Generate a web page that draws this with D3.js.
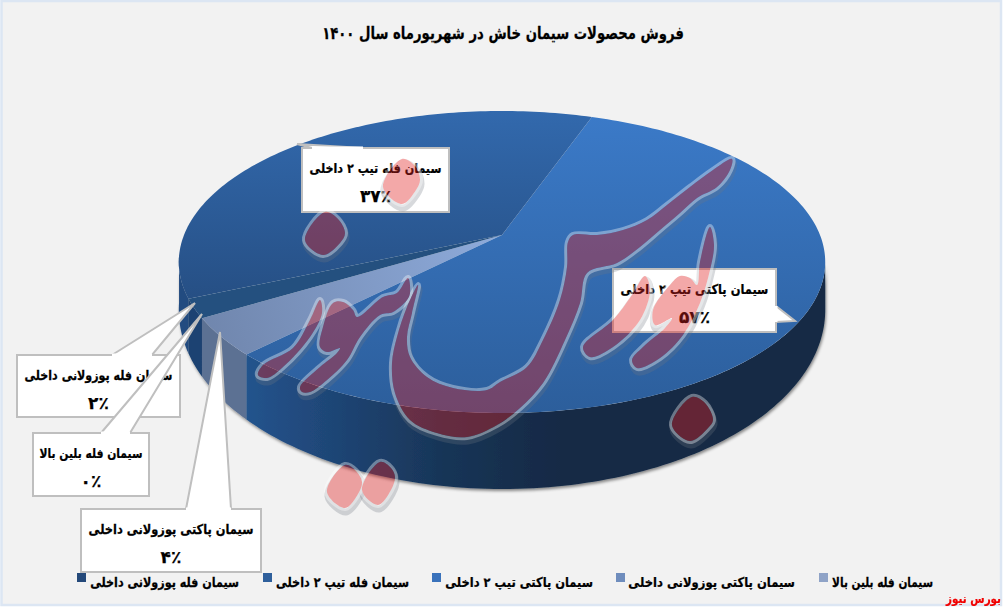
<!DOCTYPE html>
<html lang="fa">
<head>
<meta charset="utf-8">
<script src="https://cdn.jsdelivr.net/npm/d3@7"></script>
<style>
html,body{margin:0;padding:0;background:#fff;}
svg{display:block;font-family:"DejaVu Sans",sans-serif;}
text{font-weight:700;direction:rtl;fill:#000;stroke:#000;stroke-width:.25px;}
</style>
</head>
<body>
<div id="chart"></div>
<script>
// ---- data ----
const title = "فروش محصولات سیمان خاش در شهریورماه سال ۱۴۰۰";
const credit = "بورس نیوز";
const categories = [
  "سیمان فله بلین بالا",
  "سیمان پاکتی پوزولانی داخلی",
  "سیمان پاکتی تیپ ۲ داخلی",
  "سیمان فله تیپ ۲ داخلی",
  "سیمان فله پوزولانی داخلی"
];
const values = [0, 4, 57, 37, 2];
const sliceOrder = [2, 1, 0, 4, 3];      // clockwise order of categories in the pie

// ---- presentation ----
const W = 1005, H = 610;
const topColors  = ["#8da4cc", "url(#gLight)", "url(#gPack)", "url(#gBulk)", "#24507f"];
const sideColors = ["#7388ab", "#5c7193", "url(#gSide)", "#234c80", "#1c4272"];
const swatchColors = ["#8fa3c7", "#6f8dbd", "#3a72bb", "#2f609c", "#24497a"];
const legendRight = [933, 795, 593, 409, 239];
const legendWidth = [101, 167, 148, 133, 149];
const legendSwatch = [819, 616, 432, 263, 77];
// callout box: x, y, w, h; pointer base on an edge and tip; text width
const callouts = {
  3: {box:[302,148,147,64],  ptr:[[312,148],[297,144],[363,148]], tw:132},
  2: {box:[613,269,163,63],  ptr:[[776,306],[795,321],[776,322]], tw:148},
  4: {box:[17,355,163,62],   ptr:[[112,355],[195,303],[152,355]], tw:148},
  0: {box:[33,433,116,63],   ptr:[[101,433],[202,314],[130,433]], tw:103},
  1: {box:[81,509,180,63],   ptr:[[186,509],[220,332],[231,509]], tw:165}
};
const calloutOrder = [3, 2, 4, 0, 1];

const persian = n => String(n).replace(/\d/g, d => "۰۱۲۳۴۵۶۷۸۹"[d]);

// perspective projection of the unit disc onto the page
const cx = 502, K = -0.179, A = 318;
const topPt = (u, v) => {
  const q = 1 + K * v;
  return [cx + A * u / q, (104.1 * v + 235) / q];
};
const botPt = (u, v) => {
  const q = 1 + K * v;
  return [cx + A * u / q, (123.7 * v + 277.8) / q];
};
const uv = a => [Math.sin(a), -Math.cos(a)];
const startAngle = 19.3 * Math.PI / 180;

const pie = d3.pie()
  .value(i => values[i])
  .sort((a, b) => sliceOrder.indexOf(a) - sliceOrder.indexOf(b))
  .startAngle(startAngle).endAngle(startAngle + 2 * Math.PI);
const arcs = pie(d3.range(values.length));

const svg = d3.select("#chart").append("svg").attr("width", W).attr("height", H);
const defs = svg.append("defs");
function grad(id, x1, y1, x2, y2, stops) {
  const g = defs.append("linearGradient").attr("id", id).attr("gradientUnits", "userSpaceOnUse")
    .attr("x1", x1).attr("y1", y1).attr("x2", x2).attr("y2", y2);
  stops.forEach(s => g.append("stop").attr("offset", s[0]).attr("stop-color", s[1]));
}
grad("gPack", 0, 115, 0, 415, [[0, "#3b7ac8"], [1, "#2c5e9b"]]);
grad("gBulk", 0, 111, 0, 300, [[0, "#3269ad"], [1, "#264f84"]]);
grad("gLight", 502, 235, 200, 320, [[0, "#8eabdb"], [1, "#7086ad"]]);
grad("gSide", 239, 0, 825, 0, [[0, "#24558f"], [.15, "#1f4677"], [.35, "#183557"], [.55, "#132945"], [1, "#142a44"]]);
const shadow = defs.append("filter").attr("id", "pieShadow")
  .attr("x", "-5%").attr("y", "-5%").attr("width", "110%").attr("height", "110%");
shadow.append("feDropShadow").attr("dx", 1).attr("dy", 2).attr("stdDeviation", 1.6)
  .attr("flood-color", "#000").attr("flood-opacity", .45);

// places a text horizontally squeezed to a measured width
function fitText(parent, x, y, str, size, width, anchor) {
  const t = parent.append("text").attr("font-size", size).attr("text-anchor", anchor).text(str);
  const sx = width / t.node().getComputedTextLength();
  return t.attr("transform", `translate(${x},${y}) scale(${sx},1)`);
}

// frame
svg.append("rect").attr("x", 1.5).attr("y", 1).attr("width", 999.5).attr("height", 604)
  .attr("fill", "#f2f2f2").attr("stroke", "#dce6f3").attr("stroke-width", 2.5);

fitText(svg, 503, 39, title, 17, 362, "middle");

// pie sides then faces
const line = d3.line();
const samples = (a0, a1) => {
  const n = Math.max(2, Math.ceil((a1 - a0) / 0.02));
  return d3.range(n + 1).map(i => a0 + (a1 - a0) * i / n);
};
const sideMin = 100 * Math.PI / 180, sideMax = 262 * Math.PI / 180;
const sides = svg.append("g").attr("filter", "url(#pieShadow)");
arcs.forEach(d => {
  const a0 = Math.max(d.startAngle, sideMin), a1 = Math.min(d.endAngle, sideMax);
  if (a1 <= a0) return;
  const s = samples(a0, a1);
  const pts = s.map(a => topPt(...uv(a))).concat(s.slice().reverse().map(a => botPt(...uv(a))));
  sides.append("path").attr("d", line(pts) + "Z").attr("fill", sideColors[d.data]);
});
arcs.forEach(d => {
  const pts = [topPt(0, 0)].concat(samples(d.startAngle, d.endAngle).map(a => topPt(...uv(a))));
  svg.append("path").attr("d", line(pts) + "Z").attr("fill", topColors[d.data]);
});

// callouts
calloutOrder.forEach(i => {
  const c = callouts[i], [x, y, w, h] = c.box;
  const g = svg.append("g");
  g.append("polygon").attr("points", c.ptr.join(" ")).attr("fill", "#fff")
    .attr("stroke", "#bfbfbf").attr("stroke-width", 2);
  g.append("rect").attr("x", x).attr("y", y).attr("width", w).attr("height", h)
    .attr("fill", "#fff").attr("stroke", "#bfbfbf").attr("stroke-width", 2);
  // hide the seam between pointer and box, keep the remaining outline
  const a = c.ptr[0], b = c.ptr[2];
  g.append("line").attr("x1", a[0]).attr("y1", a[1]).attr("x2", b[0]).attr("y2", b[1])
    .attr("stroke", "#fff").attr("stroke-width", 3);
  fitText(g, x + w / 2, y + 25, categories[i], 13.5, c.tw, "middle");
  g.append("text").attr("x", x + w / 2).attr("y", y + 54).attr("text-anchor", "middle")
    .attr("font-size", 17).text(persian(values[i]) + "٪");
});

// legend
categories.forEach((c, i) => {
  svg.append("rect").attr("x", legendSwatch[i]).attr("y", 573).attr("width", 9).attr("height", 9)
    .attr("fill", swatchColors[i]);
  fitText(svg, legendRight[i], 587, c, 13.5, legendWidth[i], "start");
});

// watermark (decorative logo outline)
const logo = [
  [[732,159],[730,170],[717,187],[697,198],[680,213],[660,230],[640,247],[617,263],[587,273],[580,303],[565,340],[543,383],[520,408],[497,425],[467,437],[437,433],[410,420],[395,393],[392,363],[397,337],[407,307],[418,285],[412,313],[407,337],[410,357],[427,377],[453,388],[487,390],[500,382],[527,367],[543,340],[560,300],[567,267],[568,242],[573,235],[597,235],[623,230],[647,220],[667,205],[690,187],[713,170]],
  [[710,227],[714,245],[710,270],[700,303],[683,335],[660,358],[637,368],[632,360],[643,347],[665,328],[672,318],[655,325],[653,310],[670,285],[680,276],[690,278],[697,285],[700,262]],
  [[645,276],[650,290],[640,320],[613,347],[590,357],[583,347],[613,320],[632,295]],
  [[692,397],[705,403],[713,420],[708,428],[690,441],[672,425]],
  [[402,159],[415,166],[420,180],[416,190],[402,204],[383,187]],
  [[325,212],[338,219],[345,233],[340,243],[323,255],[305,240]],
  [[345,465],[356,471],[362,482],[358,494],[345,508],[327,492]],
  [[380,462],[391,468],[395,477],[391,490],[378,505],[362,490]],
  [[320,300],[322,313],[310,337],[283,367],[267,378],[258,375],[263,365],[293,348],[310,320]],
  [[333,303],[343,302],[353,310],[357,317],[383,297],[397,293],[408,278],[410,293],[407,300],[393,312],[380,315],[360,337],[347,360],[327,380],[310,392],[302,392],[300,387],[320,367],[337,353],[340,348],[327,352],[320,347],[323,327]]
];
const logoLine = d3.line().curve(d3.curveCatmullRomClosed.alpha(0.5));
const mask = defs.append("mask").attr("id", "outsideLogo")
  .attr("maskUnits", "userSpaceOnUse").attr("x", 0).attr("y", 0).attr("width", W).attr("height", H);
mask.append("rect").attr("width", W).attr("height", H).attr("fill", "#fff");
logo.forEach(p => mask.append("path").attr("d", logoLine(p)).attr("fill", "#000"));
const wm = svg.append("g").attr("pointer-events", "none");
const halo = wm.append("g").attr("mask", "url(#outsideLogo)");
logo.forEach(p => halo.append("path").attr("d", logoLine(p)).attr("fill", "none")
  .attr("transform", "translate(1,4)").attr("stroke", "rgba(110,120,130,.28)").attr("stroke-width", 7).attr("stroke-linejoin", "round"));
logo.forEach(p => halo.append("path").attr("d", logoLine(p)).attr("fill", "none")
  .attr("stroke", "rgba(255,255,255,.36)").attr("stroke-width", 6).attr("stroke-linejoin", "round"));
logo.forEach(p => wm.append("path").attr("d", logoLine(p)).attr("fill", "rgba(224,30,30,.39)"));

// credit
fitText(svg, 1001, 603, credit, 13, 55, "start").style("fill", "#f00000").style("stroke", "#f00000");
</script>
</body>
</html>
